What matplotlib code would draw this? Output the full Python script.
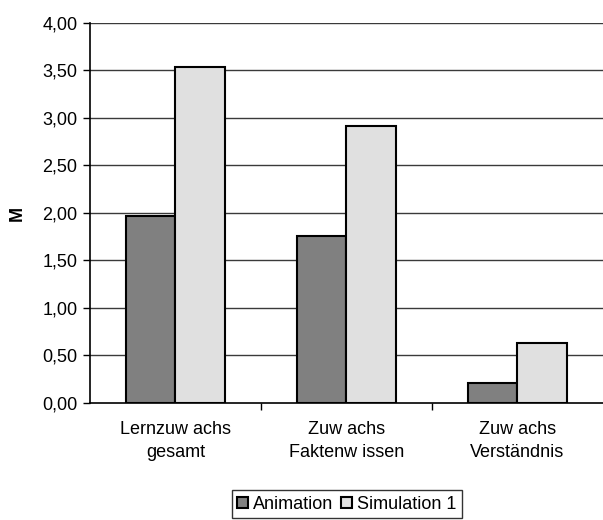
import matplotlib
import matplotlib.pyplot as plt
import numpy as np

matplotlib.use('Agg')

plt.rcParams['font.family'] = ['Liberation Sans', 'DejaVu Sans']

categories = ['Lernzuw achs\ngesamt', 'Zuw achs\nFaktenw issen', 'Zuw achs\nVerständnis']
animation = [1.97, 1.76, 0.21]
simulation = [3.54, 2.91, 0.635]
y_ticks = [0.0, 0.5, 1.0, 1.5, 2.0, 2.5, 3.0, 3.5, 4.0]

fig = plt.figure(figsize=(6.03, 5.20), dpi=100)
ax = fig.add_axes([0.149, 0.225, 0.851, 0.731])

x = np.arange(len(categories))
width = 0.29

# grid behind bars
for t in y_ticks[1:]:
    ax.axhline(t, color='#3a3a3a', linewidth=1.0, zorder=1)

ax.bar(x - width / 2, animation, width, color='#808080', edgecolor='black',
       linewidth=1.5, label='Animation', zorder=3)
ax.bar(x + width / 2, simulation, width, color='#e0e0e0', edgecolor='black',
       linewidth=1.5, label='Simulation 1', zorder=3)

ax.set_xlim(-0.5, 2.5)
ax.set_ylim(0, 4)
ax.set_yticks(y_ticks)
ax.set_yticklabels(['{:.2f}'.format(t).replace('.', ',') for t in y_ticks], fontsize=13)
ax.set_xticks(x)
ax.set_xticklabels(categories, fontsize=13, linespacing=1.45)
ax.set_xticks([0.5, 1.5], minor=True)
ax.tick_params(axis='x', which='major', length=0, pad=13)
ax.tick_params(axis='x', which='minor', length=5, direction='out', width=1)
ax.tick_params(axis='y', length=5, direction='out', width=1, pad=4)

ax.spines['top'].set_visible(False)
ax.spines['right'].set_visible(False)
ax.spines['left'].set_linewidth(1.2)
ax.spines['bottom'].set_linewidth(1.2)

ax.set_ylabel('M', fontsize=13, fontweight='bold', labelpad=12)

leg = fig.legend(loc='lower center', bbox_to_anchor=(0.575, 0.0), ncol=2,
                 fontsize=13, frameon=True, fancybox=False, edgecolor='black',
                 handlelength=0.6, handleheight=0.6, handletextpad=0.3,
                 columnspacing=0.4, borderpad=0.3, borderaxespad=0.1)
leg.get_frame().set_linewidth(1.0)

fig.savefig('out.png', dpi=100)
